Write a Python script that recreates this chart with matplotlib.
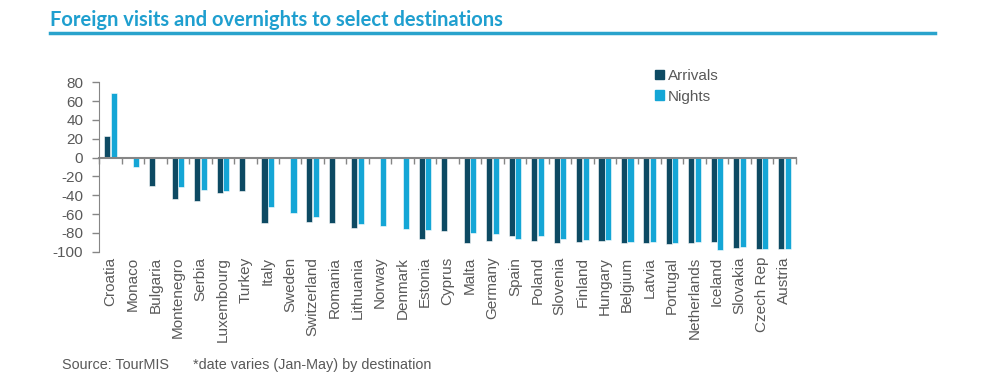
import numpy as np
import matplotlib
matplotlib.use("Agg")
import matplotlib.pyplot as plt
from matplotlib.lines import Line2D
from matplotlib.patches import Patch

countries = ['Croatia', 'Monaco', 'Bulgaria', 'Montenegro', 'Serbia', 'Luxembourg',
             'Turkey', 'Italy', 'Sweden', 'Switzerland', 'Romania', 'Lithuania',
             'Norway', 'Denmark', 'Estonia', 'Cyprus', 'Malta', 'Germany', 'Spain',
             'Poland', 'Slovenia', 'Finland', 'Hungary', 'Belgium', 'Latvia',
             'Portugal', 'Netherlands', 'Iceland', 'Slovakia', 'Czech Rep', 'Austria']
arrivals = [23, np.nan, -30, -44, -46, -38, -35, -69, np.nan, -68, -69, -75,
            np.nan, np.nan, -87, -78, -91, -89, -83, -89, -91, -90, -89, -91,
            -91, -92, -91, -90, -96, -97, -97]
nights = [69, -10, np.nan, -31, -34, -35, np.nan, -53, -59, -63, np.nan, -71,
          -73, -76, -77, np.nan, -80, -81, -87, -83, -86, -88, -88, -90,
          -90, -91, -90, -98, -95, -97, -97]
yticks = list(range(-100, 81, 20))

dark = '#0d4a63'
light = '#14a6d6'
grey = '#595959'
axis_grey = '#868686'
title_blue = '#1f9fcf'

fig = plt.figure(figsize=(10, 3.88), dpi=100)
ax = fig.add_axes([0.0993, 0.3513, 0.6964, 0.4366])

x = np.arange(len(countries))
w = 0.27
ax.bar(x - 0.145, arrivals, w, color=dark, edgecolor='white', linewidth=0.4, zorder=2)
ax.bar(x + 0.145, nights, w, color=light, edgecolor='white', linewidth=0.4, zorder=2)

ax.set_xlim(-0.5, len(countries) - 0.5)
ax.set_ylim(-100, 80)
ax.set_yticks(yticks)
ax.set_yticklabels([str(v) for v in yticks], fontsize=11, color=grey,
                   family='Liberation Sans')
ax.tick_params(axis='y', length=5, width=1, color=axis_grey, pad=6.5)

for s in ['top', 'right']:
    ax.spines[s].set_visible(False)
ax.spines['left'].set_color(axis_grey)
ax.spines['bottom'].set_position(('data', 0))
ax.spines['bottom'].set_color(axis_grey)
ax.spines['bottom'].set_linewidth(1.5)
ax.set_xticks(np.arange(-0.5, len(countries), 1.0))
ax.set_xticklabels([])
ax.tick_params(axis='x', length=4, width=1, color=axis_grey, direction='out')

# category labels at the bottom of the axes
trans = ax.get_xaxis_transform()
for i, c in enumerate(countries):
    ax.text(i, -0.03, c, transform=trans, rotation=90, ha='center', va='top',
            fontsize=11, color=grey, family='Liberation Sans')

handles = [Patch(color=dark, label='Arrivals'), Patch(color=light, label='Nights')]
fig.legend(handles=handles, loc='upper left', bbox_to_anchor=(0.641, 0.858),
           frameon=False, handlelength=0.6, handleheight=0.6, handletextpad=0.25,
           labelspacing=0.45, prop={'family': 'Liberation Sans', 'size': 11},
           labelcolor=grey)

fig.text(0.05, 0.932, 'Foreign visits and overnights to select destinations',
         fontsize=14.5, fontweight='bold', color=title_blue, family='Lato',
         ha='left', va='baseline')
fig.add_artist(Line2D([0.05, 0.935], [0.915, 0.915], color='#29a3cc', lw=2.5))

fig.text(0.062, 0.059, 'Source: TourMIS      *date varies (Jan-May) by destination',
         fontsize=10.4, color=grey, family='Liberation Sans', ha='left', va='center')

fig.savefig('out.png', dpi=100)
